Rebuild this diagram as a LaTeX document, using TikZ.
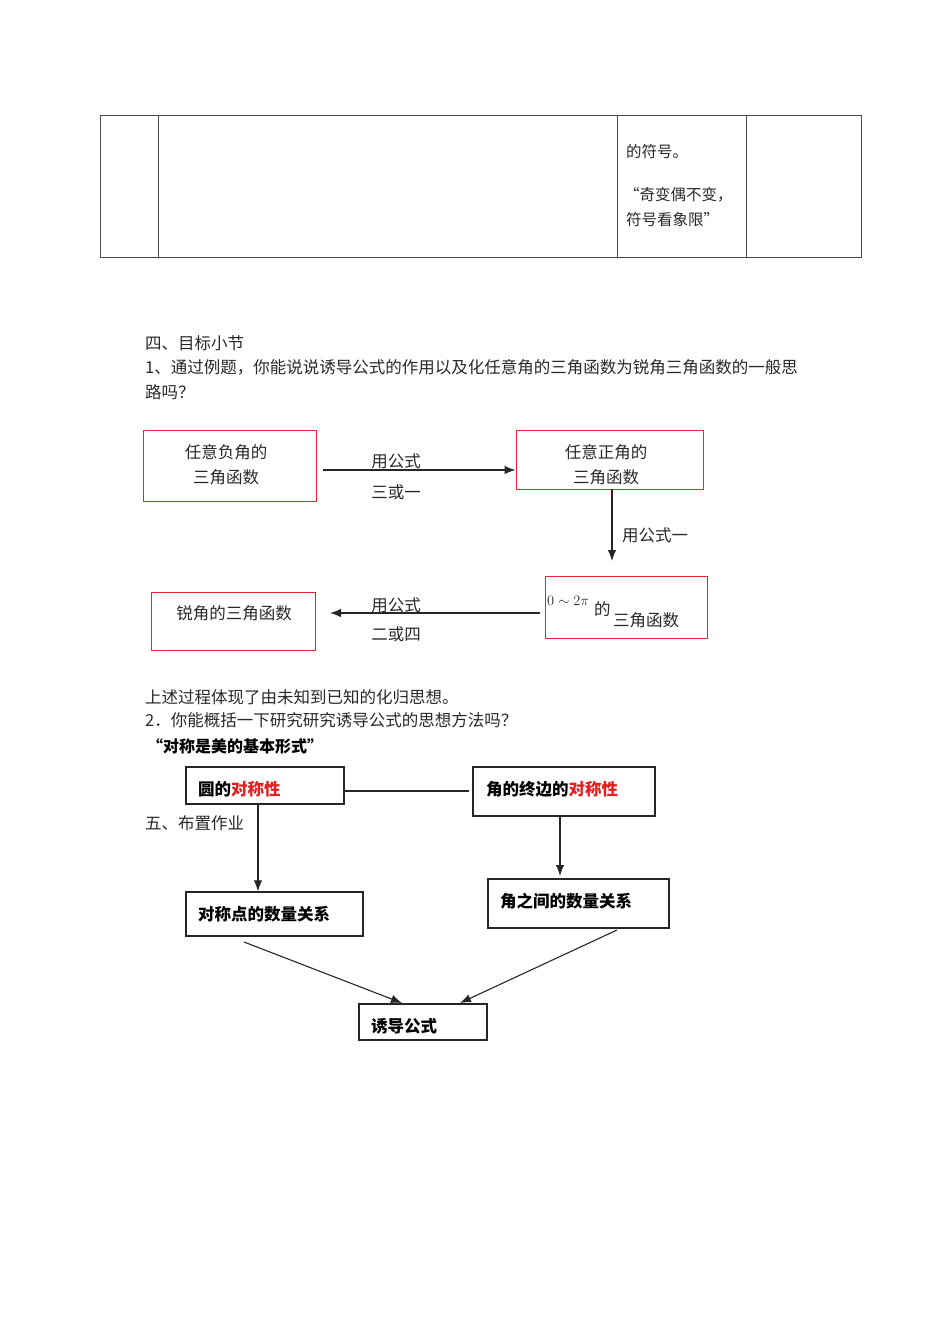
\documentclass[tikz,border=0pt]{standalone}
\usepackage{fontspec}
\newfontfamily\cjk{Noto Sans CJK SC}
\usetikzlibrary{arrows.meta}
\definecolor{boxred}{RGB}{220,40,50}
\definecolor{txtred}{RGB}{230,30,30}
\definecolor{txt}{RGB}{40,40,40}
\begin{document}
\begin{tikzpicture}[x=1pt,y=-1pt,
  every node/.style={font=\fontsize{16.5}{20}\selectfont\cjk, text=txt, inner sep=0pt},
  tline/.style={draw=black!70, line width=0.9pt},
  redbox/.style={draw=boxred, line width=1pt, align=center},
  blkbox/.style={draw=black!85, line width=1.3pt},
  btxt/.style={anchor=west, font=\fontsize{16.5}{20}\selectfont\cjk\bfseries, text=black},
  arr/.style={draw=black!85, line width=1.1pt, -{Latex[length=11pt,width=8.5pt]}},
  plain/.style={draw=black!85, line width=1.1pt},
  lbl/.style={anchor=center},
  para/.style={anchor=west}
]
\useasboundingbox (0,0) rectangle (950,1344);
% table
\draw[tline] (100,115) rectangle (861,257);
\draw[tline] (158,115) -- (158,257);
\draw[tline] (617,115) -- (617,257);
\draw[tline] (746,115) -- (746,257);
\node[para, font=\fontsize{15.5}{19}\selectfont\cjk] (t1) at (626,152) {的符号。};
\node[para, font=\fontsize{15.5}{19}\selectfont\cjk] (t2) at (624,195) {“奇变偶不变，};
\node[para, font=\fontsize{15.5}{19}\selectfont\cjk] (t3) at (626,220) {符号看象限”};

% section texts
\node[para] (s4) at (145,343) {四、目标小节};
\node[para] (q1) at (145,367) {1、通过例题，你能说说诱导公式的作用以及化任意角的三角函数为锐角三角函数的一般思};
\node[para] (q1b) at (145,392) {路吗？};

% first flow
\node[redbox, minimum width=173pt, minimum height=71pt] (A) at (229.5,465.5) {};
\node[lbl, align=center] (At) at (226,464.5) {任意负角的\\[4.5pt]三角函数};
\node[redbox, minimum width=187pt, minimum height=59pt] (B) at (609.5,459.5) {};
\node[lbl, align=center] (Bt) at (606,464.5) {任意正角的\\[4.5pt]三角函数};
\node[redbox, minimum width=162pt, minimum height=62pt] (C) at (626,607) {};
\node[redbox, minimum width=164pt, minimum height=58pt] (D) at (233,621) {};
\node[lbl] (Dt) at (234,613) {锐角的三角函数};
\node[anchor=west, font=\fontsize{15.5}{18}\selectfont] (Cm) at (547,601) {$0\sim2\pi$};
\node[anchor=west] (Cd) at (594,609) {的};
\node[anchor=west] (Ct) at (613,620) {三角函数};

\coordinate (a1) at (323,470);
\draw[arr] (a1) -- (a1 -| B.west);
\coordinate (b1) at (612,489);
\coordinate (b2) at (612,561);
\draw[arr] (b1) -- (b2);
\coordinate (c1) at (540,613);
\coordinate (c2) at (330,613);
\draw[arr] (c1) -- (c2);
\node[lbl] (l1) at (396,461) {用公式};
\node[lbl] (l2) at (396,492) {三或一};
\node[lbl] (l3) at (655,535) {用公式一};
\node[lbl] (l4) at (396,605) {用公式};
\node[lbl] (l5) at (396,634) {二或四};

% middle texts
\node[para] (p1) at (145,697) {上述过程体现了由未知到已知的化归思想。};
\node[para] (p2) at (145,720) {2．你能概括一下研究研究诱导公式的思想方法吗？};
\node[para, font=\fontsize{16}{20}\selectfont\cjk\bfseries, text=black] (p3) at (147,746) {“对称是美的基本形式”};
\node[para] (p5) at (145,823) {五、布置作业};

% second flow
\node[blkbox, minimum width=158pt, minimum height=37pt] (E) at (265,785.5) {};
\node[btxt] (Et) at (198,789) {圆的\textcolor{txtred}{对称性}};
\node[blkbox, minimum width=182pt, minimum height=49pt] (F) at (564,791.5) {};
\node[btxt] (Ft) at (486,789) {角的终边的\textcolor{txtred}{对称性}};
\node[blkbox, minimum width=177pt, minimum height=44pt] (G) at (274.5,914) {};
\node[btxt] (Gt) at (198,914) {对称点的数量关系};
\node[blkbox, minimum width=181pt, minimum height=49pt] (H) at (578.5,903.5) {};
\node[btxt] (Ht) at (500,901) {角之间的数量关系};
\node[blkbox, minimum width=128pt, minimum height=36pt] (I) at (423,1022) {};
\node[btxt] (It) at (371,1026) {诱导公式};

\coordinate (e1) at (469,791);
\draw[plain] (E.east |- e1) -- (e1);
\draw[arr] (E.south -| 258,0) -- (G.north -| 258,0);
\draw[arr] (F.south -| 560,0) -- (560,876);
\coordinate (g1) at (244,942);
\coordinate (h1) at (617,930);
\draw[arr] (g1) -- (402,1003);
\draw[arr] (h1) -- (460,1003);
\end{tikzpicture}
\end{document}
